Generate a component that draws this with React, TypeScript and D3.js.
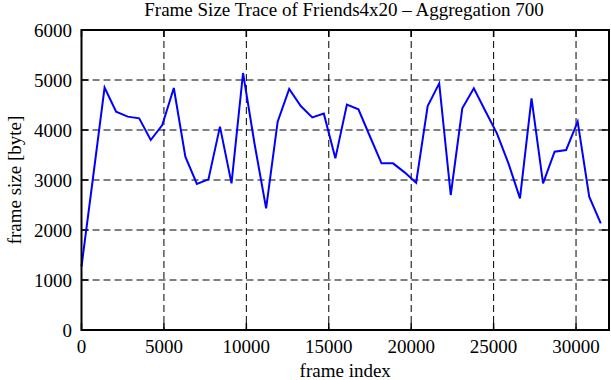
import React from "react";
import * as d3 from "d3";

const frameIndex: number[] = [
  0, 700, 1400, 2100, 2800, 3500, 4200, 4900, 5600, 6300,
  7000, 7700, 8400, 9100, 9800, 10500, 11200, 11900, 12600, 13300,
  14000, 14700, 15400, 16100, 16800, 17500, 18200, 18900, 19600, 20300,
  21000, 21700, 22400, 23100, 23800, 24500, 25200, 25900, 26600, 27300,
  28000, 28700, 29400, 30100, 30800, 31500,
];
const frameSize: number[] = [
  1270, 3050, 4850, 4367, 4267, 4233, 3800, 4100, 4840, 3467,
  2920, 3013, 4067, 2933, 5140, 3720, 2433, 4167, 4820, 4480,
  4253, 4327, 3433, 4507, 4413, 3870, 3333, 3333, 3153, 2947,
  4480, 4933, 2700, 4433, 4833, 4380, 3933, 3333, 2633, 4633,
  2933, 3567, 3600, 4167, 2667, 2133,
];
const xTicks: number[] = [0, 5000, 10000, 15000, 20000, 25000, 30000];
const yTicks: number[] = [0, 1000, 2000, 3000, 4000, 5000, 6000];
const title = "Frame Size Trace of Friends4x20 – Aggregation 700";
const xLabel = "frame index";
const yLabel = "frame size [byte]";

export default function App() {
  const W = 611, H = 380;
  const L = 81.5, R = 609, T = 30, B = 330;
  const x = d3.scaleLinear().domain([0, 32000]).range([L, R]);
  const y = d3.scaleLinear().domain([0, 6000]).range([B, T]);
  const line = d3.line<number>().x((_, i) => x(frameIndex[i])).y((d) => y(d));
  const font = "'Liberation Serif', 'Times New Roman', serif";
  const tick = 7;
  return (
    <svg width={W} height={H} style={{ position: "absolute", left: 0, top: 0, background: "#fff" }}>
      <rect x={0} y={0} width={W} height={H} fill="#fff" />
      {/* grid */}
      {yTicks.filter((v) => v > 0 && v < 6000).map((v) => (
        <line key={"gy" + v} x1={L} x2={R} y1={y(v)} y2={y(v)} stroke="#000" strokeWidth={1} strokeDasharray="7,4" />
      ))}
      {xTicks.filter((v) => v > 0).map((v) => (
        <line key={"gx" + v} x1={x(v)} x2={x(v)} y1={T} y2={B} stroke="#000" strokeWidth={1} strokeDasharray="7,4" />
      ))}
      {/* ticks */}
      {yTicks.map((v) => (
        <g key={"ty" + v}>
          <line x1={L} x2={L + tick} y1={y(v)} y2={y(v)} stroke="#000" strokeWidth={1.5} />
          <line x1={R} x2={R - tick} y1={y(v)} y2={y(v)} stroke="#000" strokeWidth={1.5} />
          <text x={72} y={y(v)} dy="0.35em" textAnchor="end" fontFamily={font} fontSize={19}>{v}</text>
        </g>
      ))}
      {xTicks.map((v) => (
        <g key={"tx" + v}>
          <line x1={x(v)} x2={x(v)} y1={B} y2={B - tick} stroke="#000" strokeWidth={1.5} />
          <line x1={x(v)} x2={x(v)} y1={T} y2={T + tick} stroke="#000" strokeWidth={1.5} />
          <text x={x(v)} y={353} textAnchor="middle" fontFamily={font} fontSize={19}>{v}</text>
        </g>
      ))}
      {/* data */}
      <path d={line(frameSize) || ""} fill="none" stroke="#0000ff" strokeWidth={2} strokeLinejoin="miter" />
      {/* border */}
      <rect x={L} y={T} width={R - L} height={B - T} fill="none" stroke="#000" strokeWidth={2} />
      {/* labels */}
      <text x={344} y={16} textAnchor="middle" fontFamily={font} fontSize={19}>{title}</text>
      <text x={(L + R) / 2} y={377} textAnchor="middle" fontFamily={font} fontSize={19}>{xLabel}</text>
      <text transform={`translate(21, ${(T + B) / 2}) rotate(-90)`} textAnchor="middle" fontFamily={font} fontSize={19}>{yLabel}</text>
    </svg>
  );
}
